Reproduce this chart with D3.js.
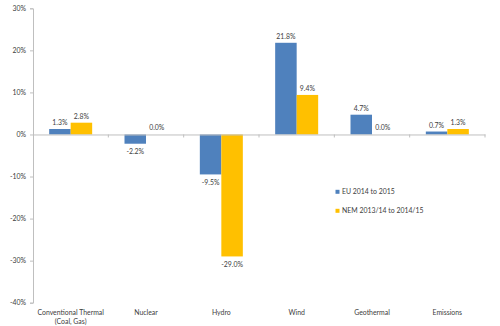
<!DOCTYPE html>
<html><head><meta charset="utf-8">
<script src="https://cdn.jsdelivr.net/npm/d3@7"></script>
<style>body{margin:0;background:#fff}svg{display:block}text{font-family:Lato,"Liberation Sans",sans-serif;fill:#404040}</style>
</head><body><svg id="c" width="500" height="326"></svg>
<script>
const categories = ["Conventional Thermal\n(Coal, Gas)", "Nuclear", "Hydro", "Wind", "Geothermal", "Emissions"];
const seriesNames = ["EU 2014 to 2015", "NEM 2013/14 to 2014/15"];
const euValues = [1.3, -2.2, -9.5, 21.8, 4.7, 0.7];
const nemValues = [2.8, 0.0, -29.0, 9.4, 0.0, 1.3];
const yTicks = [30, 20, 10, 0, -10, -20, -30, -40];
const colors = ["#4F81BD", "#FFC000"];

(function () {
const svg = d3.select("#c");
const pl = 33, pr = 485, pt = 8.3, pb = 302.7;
const y = d3.scaleLinear().domain([-40, 30]).range([pb, pt]);
const x0 = d3.scaleBand().domain(categories).range([pl, pr]).paddingInner(0).paddingOuter(0);
const barW = 21.5;
const data = [euValues, nemValues];
const fs = "6.9px";

// y axis
const yAxis = d3.axisLeft(y).tickValues(yTicks).tickFormat(d => d + "%").tickSize(3).tickPadding(4);
const gy = svg.append("g").attr("transform", `translate(${pl},0)`).call(yAxis);
gy.select(".domain").attr("stroke", "#BFBFBF");
gy.selectAll(".tick line").attr("stroke", "#BFBFBF");
gy.selectAll(".tick text").style("font-size", fs).attr("fill", "#404040").style("font-family", "Lato,'Liberation Sans',sans-serif");

// bars
data.forEach((vals, si) => {
  svg.append("g").selectAll("rect").data(vals).join("rect")
    .attr("x", (d, i) => x0(categories[i]) + x0.bandwidth() / 2 - barW + si * barW)
    .attr("width", barW)
    .attr("y", d => y(Math.max(0, d)))
    .attr("height", d => Math.abs(y(d) - y(0)))
    .attr("fill", colors[si]);
  svg.append("g").selectAll("text").data(vals).join("text")
    .attr("x", (d, i) => x0(categories[i]) + x0.bandwidth() / 2 - barW / 2 + si * barW)
    .attr("y", d => d < 0 ? y(d) + 10.5 : y(d) - 4)
    .attr("text-anchor", "middle")
    .style("font-size", fs)
    .text(d => d.toFixed(1) + "%");
});

// x axis at zero
const xAxis = d3.axisBottom(x0).tickSize(0).tickFormat("");
const gx = svg.append("g").attr("transform", `translate(0,${y(0)})`).call(xAxis);
gx.select(".domain").attr("stroke", "#BFBFBF");
svg.append("g").selectAll("line").data(categories).join("line")
  .attr("x1", d => x0(d) + x0.bandwidth()).attr("x2", d => x0(d) + x0.bandwidth())
  .attr("y1", y(0)).attr("y2", y(0) + 3).attr("stroke", "#BFBFBF");

// category labels
const cl = svg.append("g").selectAll("text").data(categories).join("text")
  .attr("x", d => x0(d) + x0.bandwidth() / 2)
  .attr("y", 314.8)
  .attr("text-anchor", "middle")
  .style("font-size", fs);
cl.each(function(d) {
  const lines = d.split("\n");
  lines.forEach((l, i) => d3.select(this).append("tspan").attr("x", x0(d) + x0.bandwidth() / 2).attr("dy", i ? 8.8 : 0).text(l));
});

// legend
const lg = svg.append("g");
seriesNames.forEach((n, i) => {
  lg.append("rect").attr("x", 335.5).attr("y", 189.8 + i * 19).attr("width", 4).attr("height", 4).attr("fill", colors[i]);
  lg.append("text").attr("x", 342).attr("y", 194.4 + i * 19).style("font-size", "6.9px").text(n);
});
})();
</script></body></html>
